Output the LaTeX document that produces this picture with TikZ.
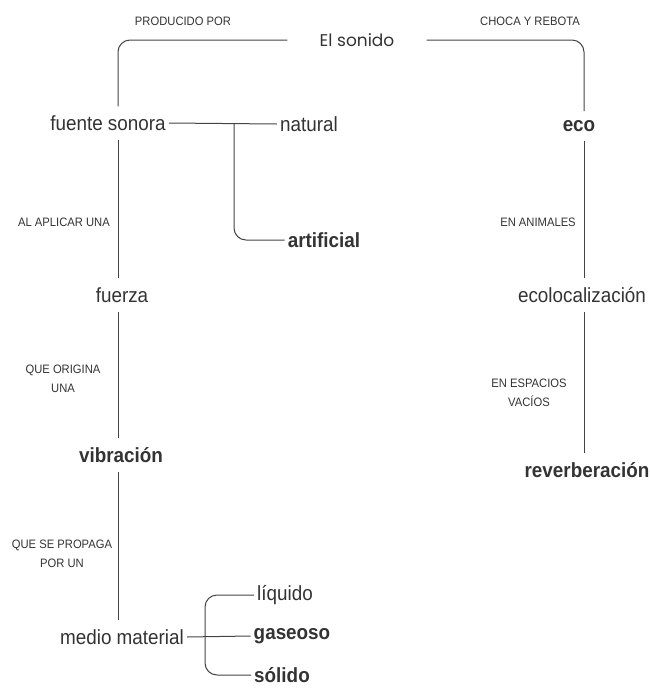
\documentclass[tikz,border=0pt]{standalone}
\usepackage{fontspec}
\setmainfont{Liberation Sans}[FakeStretch=0.92]
\newfontfamily\titlefont{Poppins}
\usepackage{tikz}
\usetikzlibrary{positioning,calc}
\definecolor{InkGray}{RGB}{51,51,51}
\definecolor{LineGray}{RGB}{68,68,68}

\begin{document}
\begin{tikzpicture}[
  x=1pt,y=-1pt,
  concept/.style={
    text=InkGray,inner xsep=3pt,inner ysep=9pt,
    font=\fontsize{20.5}{24}\selectfont
  },
  keyconcept/.style={concept,font=\fontsize{20.5}{24}\selectfont\bfseries},
  linkword/.style={
    text=InkGray,align=center,inner sep=0pt,
    font=\fontsize{12.2}{18.5}\selectfont
  },
  link/.style={draw=LineGray,line width=1pt,rounded corners=12pt}
]
  \useasboundingbox (0,0) rectangle (649,689);

  % spines of the map
  \coordinate (spineL) at (118,0);
  \coordinate (spineR) at (584,0);
  \coordinate (forkA) at (234,0);
  \coordinate (forkB) at (205,637);

  % concepts
  \node[text=InkGray,inner xsep=32pt,font=\titlefont\fontsize{17}{20}\selectfont]
    (sonido) at (357,40) {El sonido};
  \node[concept] (fuente) at (108,123) {fuente sonora};
  \node[concept] (natural) at (309,124) {natural};
  \node[keyconcept] (artificial) at (324,240) {artificial};
  \node[concept] (fuerza) at (122,295) {fuerza};
  \node[keyconcept] (vibracion) at (121,455) {vibración};
  \node[concept] (medio) at (122,637) {medio material};
  \node[concept] (liquido) at (285,595) {líquido};
  \node[keyconcept] (gaseoso) at (292,636) {gaseoso};
  \node[keyconcept,inner ysep=1pt] (solido) at (282,675) {sólido};
  \node[keyconcept] (eco) at (579,126) {eco};
  \node[concept] (ecoloc) at (582,295) {ecolocalización};
  \node[keyconcept] (reverb) at (587,470) {reverberación};

  % linking words
  \node[linkword] (producido) at (183,21) {PRODUCIDO POR};
  \node[linkword] (choca) at (530,21) {CHOCA Y REBOTA};
  \node[linkword] (aplicar) at (64,222) {AL APLICAR UNA};
  \node[linkword] (origina) at (63,379) {QUE ORIGINA\\UNA};
  \node[linkword] (propaga) at (62,554) {QUE SE PROPAGA\\POR UN};
  \node[linkword] (animales) at (538,222) {EN ANIMALES};
  \node[linkword] (espacios) at (529,393) {EN ESPACIOS\\VACÍOS};

  % connectors
  \draw[link] (sonido.west) -| (fuente.north -| spineL);
  \draw[link] (sonido.east) -| (eco.north -| spineR);
  \draw[link] (fuente.east) -- (natural.west);
  \draw[link] (fuente.east -| forkA) |- (artificial.west);
  \draw[link] (fuente.south -| spineL) -- (fuerza.north -| spineL);
  \draw[link] (fuerza.south -| spineL) -- (vibracion.north -| spineL);
  \draw[link] (vibracion.south -| spineL) -- (medio.north -| spineL);
  \draw[link] (medio.east) -- (gaseoso.west);
  \draw[link] (liquido.west) -| (forkB) |- (solido.west);
  \draw[link] (eco.south -| spineR) -- (ecoloc.north -| spineR);
  \draw[link] (ecoloc.south -| spineR) -- (reverb.north -| spineR);
\end{tikzpicture}
\end{document}
